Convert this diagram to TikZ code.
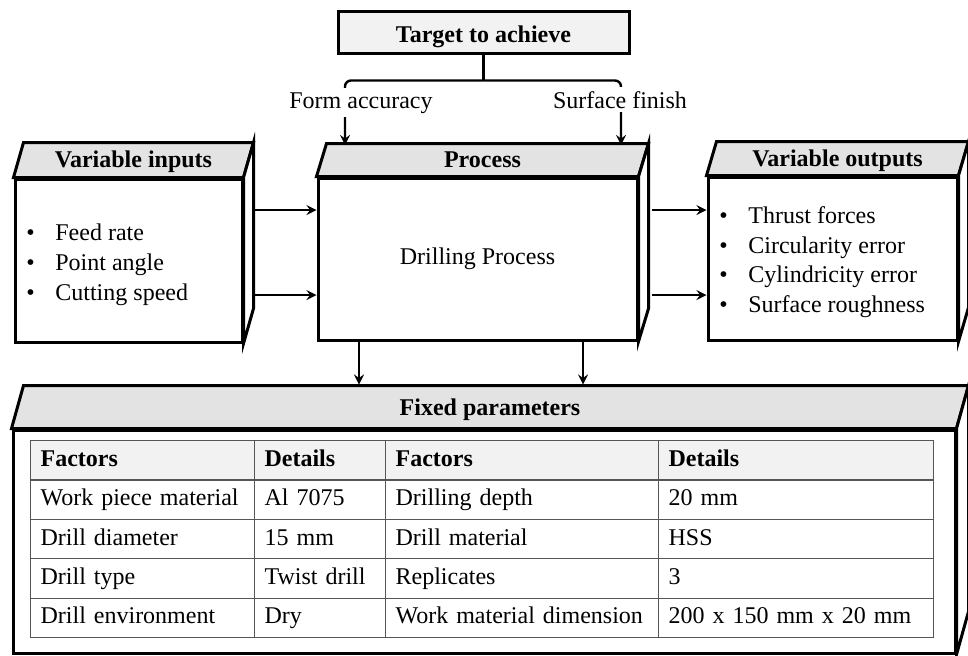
\documentclass[tikz,border=0pt]{standalone}
\usepackage{fontspec}
\setmainfont{Liberation Serif}
\usetikzlibrary{arrows}
\usetikzlibrary{calc}
\usetikzlibrary{matrix}
\usetikzlibrary{positioning}
\definecolor{facegray}{HTML}{E3E3E3}
\definecolor{boxgray}{HTML}{F2F2F2}
\definecolor{gridgray}{HTML}{555555}
\newcommand{\bitem}{\makebox[14.5pt][l]{\textbullet}}

\tikzset{
  front/.style={draw, line width=1.5pt, fill=white, inner sep=0pt},
  face/.style={draw, line width=1.5pt, line join=miter},
  heading/.style={font=\fontsize{12}{14}\selectfont\bfseries},
  flow/.style={->, >=stealth, line width=1.2pt},
  aimtext/.style={fill=white, inner sep=2pt, anchor=base},
  cell/.style={draw=gridgray, line width=0.6pt, inner xsep=5pt, inner ysep=0pt,
    minimum height=19.7pt, text height=8.5pt, text depth=2.5pt, align=left}
}

\begin{document}
\begin{tikzpicture}[x=0.5pt, y=-0.5pt, font=\fontsize{12}{15}\selectfont]

           \useasboundingbox (0,0) rectangle (968,655);

           % Target to achieve
           \node[front, fill=boxgray, minimum width=145.5pt, minimum height=21pt, heading,
           text height=10pt, text depth=0pt] (target) at (483.5,32) {Target to achieve};
           \coordinate (fork) at ($(target.south)+(0,26)$);
           \coordinate (aimL) at (345,145);
           \coordinate (aimR) at (621,145);

           % Process
           \node[front, minimum width=159.5pt, minimum height=81pt]
           (proc) at (477.5,259) {Drilling Process};
           \filldraw[face, fill=facegray] (proc.north west) -- ++(10,-33)
           -- ($(proc.north east)+(10,-33)$) -- (proc.north east) -- cycle;
           \filldraw[face, fill=white] (proc.north east) -- ++(10,-33)
           -- ($(proc.south east)+(10,-33)$) -- (proc.south east) -- cycle;
           \node[heading, anchor=base] (proctitle) at ($(proc.north)+(5,-9)$) {Process};

           % Variable inputs
           \node[front, minimum width=113.5pt, minimum height=81.5pt]
           (inputs) at (128.5,260.5) {};
           \filldraw[face, fill=facegray] (inputs.north west) -- ++(10,-35)
           -- ($(inputs.north east)+(10,-35)$) -- (inputs.north east) -- cycle;
           \filldraw[face, fill=white] (inputs.north east) -- ++(10,-35)
           -- ($(inputs.south east)+(10,-35)$) -- (inputs.south east) -- cycle;
           \node[heading, anchor=base] (inputstitle) at ($(inputs.north)+(5,-10)$) {Variable inputs};
           \node[anchor=west, align=left, inner sep=0pt] (inputslist) at (26,265)
           {\bitem Feed rate\\ \bitem Point angle\\ \bitem Cutting speed};

           % Variable outputs
           \node[front, minimum width=124.5pt, minimum height=81.5pt]
           (outputs) at (832.5,258.5) {};
           \filldraw[face, fill=facegray] (outputs.north west) -- ++(10,-34)
           -- ($(outputs.north east)+(10,-34)$) -- (outputs.north east) -- cycle;
           \filldraw[face, fill=white] (outputs.north east) -- ++(10,-34)
           -- ($(outputs.south east)+(10,-34)$) -- (outputs.south east) -- cycle;
           \node[heading, anchor=base] (outputstitle) at ($(outputs.north)+(5,-9.5)$) {Variable outputs};
           \node[anchor=west, align=left, inner sep=0pt, font=\fontsize{12}{14.75}\selectfont]
           (outputslist) at (719,262)
           {\bitem Thrust forces\\ \bitem Circularity error\\
            \bitem Cylindricity error\\ \bitem Surface roughness};

           % Fixed parameters
           \node[front, minimum width=471pt, minimum height=111.5pt]
           (fixed) at (484,541.5) {};
           \filldraw[face, fill=facegray] (fixed.north west) -- ++(12,-43)
           -- ($(fixed.north east)+(12,-43)$) -- (fixed.north east) -- cycle;
           \filldraw[face, fill=white] (fixed.north east) -- ++(12,-43)
           -- ($(fixed.south east)+(12,-43)$) -- (fixed.south east) -- cycle;
           \node[heading, anchor=base] (fixedtitle) at ($(fixed.north)+(6,-13)$) {Fixed parameters};

           \matrix (params) [matrix of nodes, anchor=north west, nodes={cell},
             inner sep=0pt, outer sep=0pt, column sep=-0.6pt, row sep=-0.6pt,
             row 1/.style={nodes={fill=boxgray, font=\fontsize{12}{15}\selectfont\bfseries}},
             column 1/.style={nodes={text width=102pt}},
             column 2/.style={nodes={text width=55.5pt}},
             column 3/.style={nodes={text width=126.5pt}},
             column 4/.style={nodes={text width=127.5pt}}] at (30,440) {
             Factors & Details & Factors & Details \\
             Work piece material & Al 7075 & Drilling depth & 20 mm \\
             Drill diameter & 15 mm & Drill material & HSS \\
             Drill type & Twist drill & Replicates & 3 \\
             Drill environment & Dry & Work material dimension & 200 x 150 mm x 20 mm \\
           };

           % connectors
           \coordinate (rowA) at (0,210);
           \coordinate (rowB) at (0,295);
           \coordinate (colA) at (359,0);
           \coordinate (colB) at (583,0);

           \draw[line width=1.2pt] (target.south) -- (fork);
           \draw[flow, rounded corners=3pt] (fork) -| (aimL);
           \draw[flow, rounded corners=3pt] (fork) -| (aimR);
           \node[aimtext] (formacc) at (361,108) {Form accuracy};
           \node[aimtext] (surffin) at (620,108) {Surface finish};

           \draw[flow] ($(inputs.east |- rowA)+(10,0)$) -- (proc.west |- rowA);
           \draw[flow] ($(inputs.east |- rowB)+(10,0)$) -- (proc.west |- rowB);
           \draw[flow] ($(proc.east |- rowA)+(13,0)$) -- (outputs.west |- rowA);
           \draw[flow] ($(proc.east |- rowB)+(13,0)$) -- (outputs.west |- rowB);
           \draw[flow] (proc.south -| colA) -- ($(fixed.north -| colA)+(0,-44)$);
           \draw[flow] (proc.south -| colB) -- ($(fixed.north -| colB)+(0,-44)$);

\end{tikzpicture}
\end{document}
